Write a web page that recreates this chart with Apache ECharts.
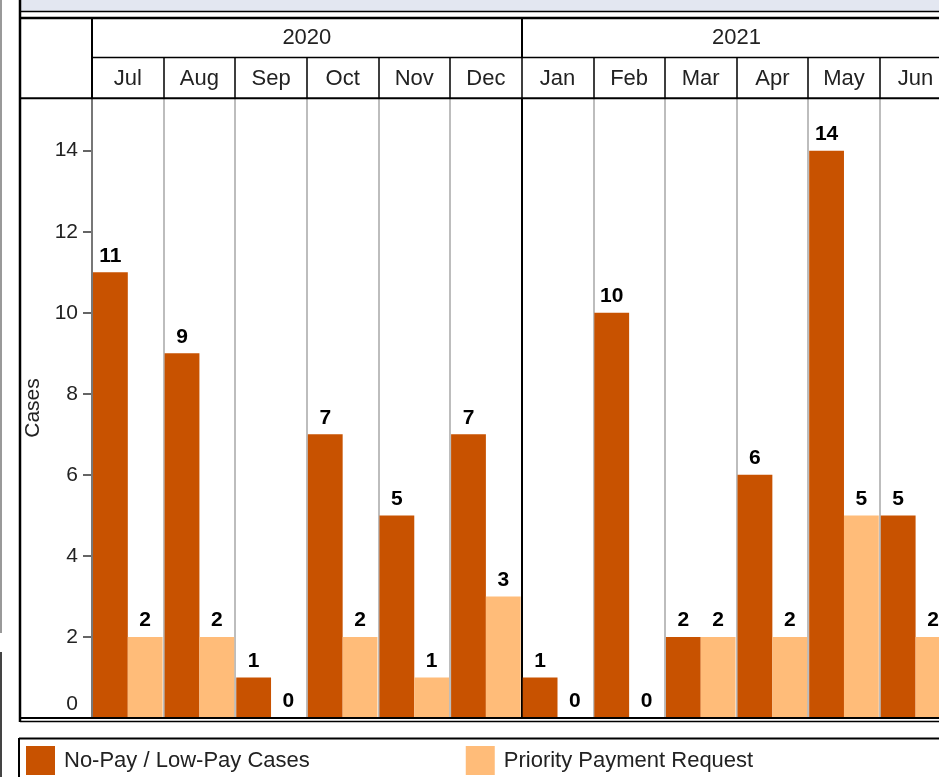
<!DOCTYPE html>
<html>
<head>
<meta charset="utf-8">
<script src="https://cdn.jsdelivr.net/npm/echarts@6/dist/echarts.min.js"></script>
<style>
html,body{margin:0;padding:0;background:#fff;overflow:hidden;width:939px;height:777px;}
#chart{width:960px;height:777px;}
</style>
</head>
<body>
<div id="chart"></div>
<script>
const months = ['Jul','Aug','Sep','Oct','Nov','Dec','Jan','Feb','Mar','Apr','May','Jun'];
const years = ['2020','2021'];
const noPayCases = [11, 9, 1, 7, 5, 7, 1, 10, 2, 6, 14, 5];
const priorityRequests = [2, 2, 0, 2, 1, 3, 0, 0, 2, 2, 5, 2];
const seriesNames = ['No-Pay / Low-Pay Cases', 'Priority Payment Request'];

const FONT = '"Liberation Sans", Arial, sans-serif';
const chart = echarts.init(document.getElementById('chart'), null, {renderer: 'canvas'});

const barLabel = {
  show: true, position: 'top', distance: 6,
  fontFamily: FONT, fontWeight: 'bold', fontSize: 21, color: '#000'
};

function hline(x1, x2, y, w, c) {
  return {type: 'line', silent: true, z: 10, shape: {x1: x1, y1: y, x2: x2, y2: y}, style: {stroke: c || '#000', lineWidth: w}};
}
function vline(x, y1, y2, w, c) {
  return {type: 'line', silent: true, z: 10, shape: {x1: x, y1: y1, x2: x, y2: y2}, style: {stroke: c || '#000', lineWidth: w}};
}

chart.setOption({
  animation: false,
  textStyle: {fontFamily: FONT},
  grid: {left: 92, top: 98, right: 8.6, bottom: 59, containLabel: false},
  legend: {
    data: seriesNames,
    left: 21, top: 741,
    icon: 'rect', itemWidth: 29, itemHeight: 29, itemGap: 156,
    textStyle: {fontFamily: FONT, fontSize: 22, color: '#222', padding: [0, 0, 0, 4]}
  },
  xAxis: [
    {
      type: 'category', data: months, position: 'bottom',
      axisLine: {show: false}, axisTick: {show: false}, axisLabel: {show: false},
      splitLine: {show: true, lineStyle: {color: '#bdbdbd', width: 2}}, z: 0
    },
    {
      type: 'category', data: months, position: 'top', offset: 0,
      axisLine: {show: false},
      axisTick: {show: true, length: 41, interval: 0, lineStyle: {color: '#000', width: 1.5}},
      axisLabel: {show: true, interval: 0, margin: 19.5, verticalAlign: 'middle', fontFamily: FONT, fontSize: 22, color: '#222'},
      splitLine: {show: false}
    },
    {
      type: 'category', data: years, position: 'top', offset: 41,
      axisLine: {show: false},
      axisTick: {show: true, length: 39, interval: 0, lineStyle: {color: '#000', width: 2}},
      axisLabel: {show: true, interval: 0, margin: 19, verticalAlign: 'middle', fontFamily: FONT, fontSize: 22, color: '#222'},
      splitLine: {show: true, lineStyle: {color: ['#777', '#000', '#000'], width: 2}}, z: 1
    }
  ],
  yAxis: {
    type: 'value', min: 0, max: 15.3, interval: 2,
    name: 'Cases', nameLocation: 'middle', nameGap: 48,
    nameTextStyle: {fontFamily: FONT, fontSize: 21, color: '#222'},
    axisLine: {show: true, lineStyle: {color: '#777', width: 1.5}},
    axisTick: {show: true, length: 9, lineStyle: {color: '#333', width: 1.5}},
    axisLabel: {
      show: true, margin: 14, fontFamily: FONT, fontSize: 21, color: '#222', showMaxLabel: false,
      formatter: function (v) { return v === 0 ? '{z|0}' : String(v); },
      rich: {z: {fontFamily: FONT, fontSize: 21, color: '#222', padding: [0, 0, 28, 0]}}
    },
    splitLine: {show: false}
  },
  series: [
    {
      name: seriesNames[0], type: 'bar', data: noPayCases,
      itemStyle: {color: '#c85200'}, barGap: 0, barCategoryGap: 2,
      label: barLabel
    },
    {
      name: seriesNames[1], type: 'bar', data: priorityRequests,
      itemStyle: {color: '#ffbc79'}, barGap: 0, barCategoryGap: 2,
      label: barLabel
    }
  ],
  graphic: [
    {type: 'rect', silent: true, z: 5, shape: {x: 21, y: 0, width: 940, height: 11}, style: {fill: '#e3e7f1'}},
    hline(21, 960, 11.5, 1.5),
    vline(1, 0, 633, 2, '#999'),
    vline(1, 652, 777, 2, '#444'),
    vline(20, 0, 722, 2.5),
    hline(20, 960, 18, 2.5),
    hline(92, 960, 57.5, 1.5),
    hline(20, 960, 98.2, 2),
    vline(92, 18, 98, 2),
    hline(20, 960, 718, 2),
    hline(20, 960, 721.5, 1.5),
    hline(19, 960, 738.5, 2),
    vline(19, 738, 777, 2)
  ]
});
</script>
</body>
</html>
